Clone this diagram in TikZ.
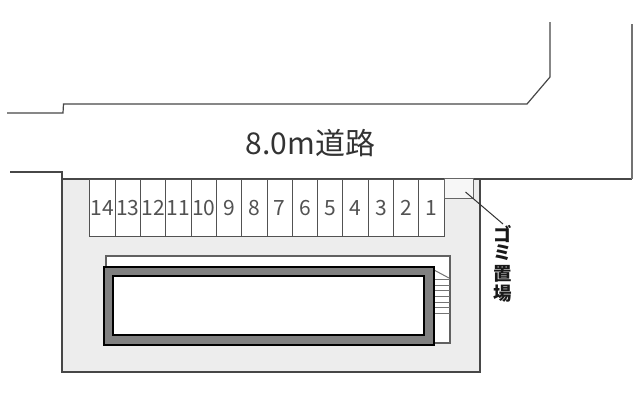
\documentclass[tikz,border=0pt]{standalone}
\usepackage{fontspec}
\setmainfont{Noto Sans CJK JP}
\tikzset{
  wall/.style={draw=black!72,line width=1.2pt},
  thin wall/.style={draw=black!62,line width=1.1pt},
  stall/.style={draw=black!68,line width=1pt,fill=white,minimum height=57pt,minimum width=25.3pt,inner sep=0pt,outer sep=0pt},
  stallnum/.style={font=\fontsize{21}{21}\selectfont,text=black!68,inner sep=0pt,text height=15.5pt,text depth=0pt},
  kanji/.style={font=\fontsize{18.5}{18.5}\selectfont\bfseries,text=black!90,inner sep=0pt},
}
\begin{document}
\begin{tikzpicture}[x=1pt,y=-1pt]
\useasboundingbox (0,0) rectangle (640,400);
\fill[white] (0,0) rectangle (640,400);
% lot
\fill[black!7] (62,179) rectangle (480,372);
\draw[wall] (10,172) -- (62,172) -- (62,372) -- (480,372) -- (480,179);
% road
\draw[wall] (7,113) -- (63,113) -- (63.5,104) -- (527,104) -- (550,77) -- (550,22);
\draw[wall] (62,179) -- (632,179);
\draw[draw=black!55,line width=1.5pt] (632,179) -- (632,24);
\node[inner sep=0pt,text=black!80,font=\fontsize{30}{30}\selectfont] (road) at (310.5,143) {8.0m道路};
% parking
\foreach \n [count=\i from 0] in {14,13,12,11,10,9,8,7,6,5,4,3,2,1} {
  \node[stall] (s\n) at ({102.6+25.3*\i},207.5) {};
  \node[stallnum] at (s\n) {\n};
}
% refuse box
\node[draw=black!60,line width=1pt,fill=black!3,minimum width=29pt,minimum height=20pt,inner sep=0pt] (gomi) at (458.5,188) {};
\coordinate (lead) at (465.5,192);
\node[kanji] (g1) at (503,234) {ゴ};
\node[kanji] (g2) at (503,253) {ミ};
\node[kanji] (g3) at (503,273.5) {置};
\node[kanji] (g4) at (503,294) {場};
\draw[draw=black!80,line width=1pt] (lead) -- (503,224);
% terrace and stairs
\fill[white] (106,256) rectangle (450,343);
\draw[thin wall] (106,267) -- (106,256) -- (450,256) -- (450,343) -- (434,343);
\draw[draw=black!55,line width=1pt] (434,270) -- (449,278);
\foreach \y in {279,285,290,296,302,307,313} \draw[draw=black!55,line width=1pt] (434,\y) -- (450,\y);
% building
\node[draw=black,line width=2pt,fill=black!50,minimum width=330pt,minimum height=78pt,inner sep=0pt,outer sep=0pt] (outer) at (269,306) {};
\node[draw=black,line width=2pt,fill=white,minimum width=311pt,minimum height=59pt,inner sep=0pt,outer sep=0pt] (inner) at (268,305.5) {};
\end{tikzpicture}
\end{document}
